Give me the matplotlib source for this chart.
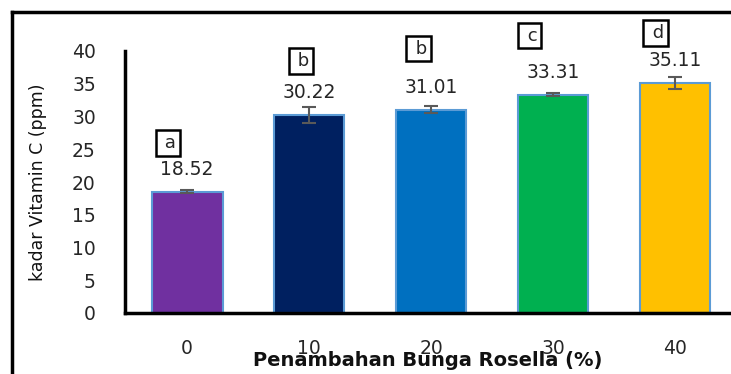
import matplotlib
matplotlib.use("Agg")
import matplotlib.pyplot as plt
from matplotlib.lines import Line2D

categories = ["0", "10", "20", "30", "40"]
values = [18.52, 30.22, 31.01, 33.31, 35.11]
errors = [0.25, 1.2, 0.55, 0.25, 0.85]
letters = ["a", "b", "b", "c", "d"]
bar_colors = ["#7030A0", "#002060", "#0070C0", "#00B050", "#FFC000"]
yticks = [0, 5, 10, 15, 20, 25, 30, 35, 40]

# letter box offsets (points, relative to bar top) - layout only
letter_dx = [-14, -6, -9, -17, -14]
letter_dy = [35, 39, 44, 42.5, 36]

plt.rcParams['font.family'] = ['DejaVu Sans']
fig = plt.figure(figsize=(7.31, 3.74), dpi=100)
ax = fig.add_axes([125/731, (374-313)/374, 1 - 125/731, (313-51)/374])

x = list(range(len(categories)))
ax.bar(x, values, width=0.58, color=bar_colors, edgecolor="#5B9BD5", linewidth=1.5, zorder=2)
ax.errorbar(x, values, yerr=errors, fmt='none', ecolor="#595959", elinewidth=1.5,
            capsize=5, capthick=1.5, zorder=3)

for xi, v in zip(x, values):
    ax.annotate(f"{v:.2f}", (xi, v), xytext=(0, 16), textcoords="offset points",
                ha="center", va="center", fontsize=13.5, color="#262626")

for xi, v, l, dx, dy in zip(x, values, letters, letter_dx, letter_dy):
    ax.annotate(" " + l, (xi, v), xytext=(dx, dy), textcoords="offset points",
                ha="center", va="center", fontsize=13, color="#262626",
                bbox=dict(boxstyle="square,pad=0.2", fc="none", ec="black", lw=1.8),
                annotation_clip=False)

ax.set_xlim(-0.51, 4.46)
ax.set_ylim(0, 40)
ax.set_yticks(yticks)
ax.set_xticks(x)
ax.set_xticklabels(categories)
ax.tick_params(axis='both', length=0, labelsize=13.5, colors="#262626")
ax.tick_params(axis='y', pad=21)
ax.tick_params(axis='x', pad=18.5)
for s in ["top", "right"]:
    ax.spines[s].set_visible(False)
for s in ["left", "bottom"]:
    ax.spines[s].set_linewidth(2.5)
    ax.spines[s].set_color("black")

ax.set_xlabel("Penambahan Bunga Rosella (%)", fontsize=14, fontweight="bold",
              labelpad=-4.5, color="#111111")
ax.set_ylabel("kadar Vitamin C (ppm)", fontsize=12.5, labelpad=18, color="#111111")

# outer frame lines
fig.add_artist(Line2D([12/731, 1], [1 - 12/374, 1 - 12/374], color="black", lw=2.5,
                      transform=fig.transFigure))
fig.add_artist(Line2D([12/731, 12/731], [0, 1 - 12/374], color="black", lw=2.5,
                      transform=fig.transFigure))

fig.savefig("out.png", dpi=100)
